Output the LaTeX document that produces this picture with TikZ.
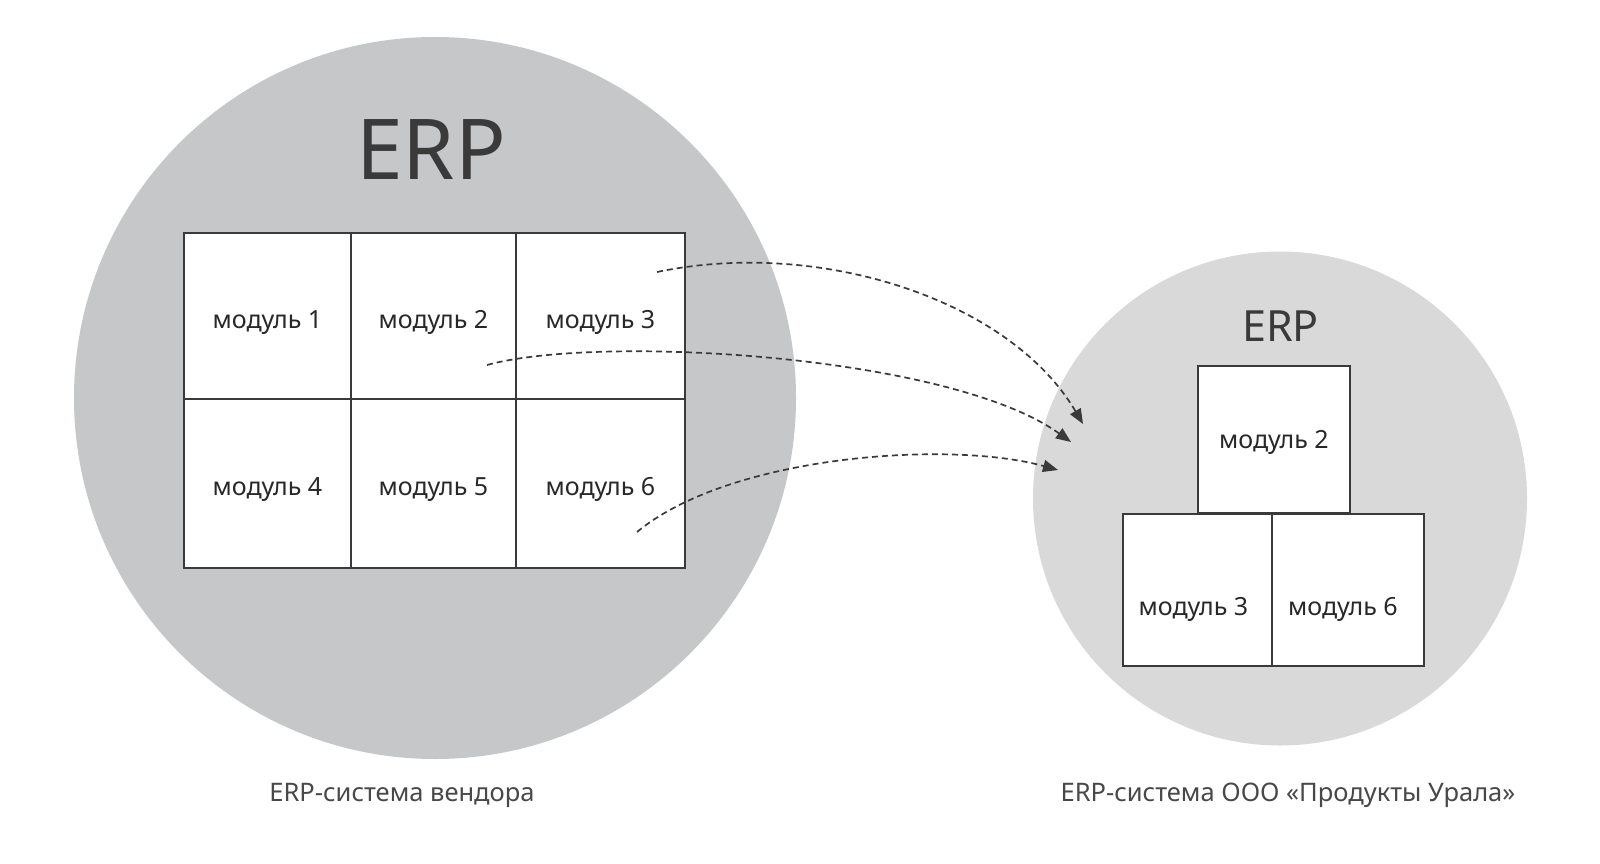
\documentclass[tikz,border=0pt]{standalone}
\usepackage{fontspec}
\setmainfont{Noto Sans}
\usetikzlibrary{arrows.meta}
\definecolor{bigc}{RGB}{198,199,200}
\definecolor{smallc}{RGB}{217,217,217}
\definecolor{ink}{RGB}{58,58,58}
\definecolor{txt}{RGB}{40,40,40}
\tikzset{
  cell/.style={draw=ink, line width=2.6pt, fill=white, text=txt, font=\fontsize{25}{28}\selectfont, inner sep=0pt, text depth=0pt, text height=24pt},
  flow/.style={draw=ink, line width=1.7pt, dash pattern=on 6pt off 4pt, -{Triangle[length=15pt,width=12pt]}},
  caption/.style={text=txt!85!white, font=\fontsize{25.5}{28}\selectfont, inner sep=0pt}
}
\begin{document}
\begin{tikzpicture}[x=1pt,y=-1pt]
\useasboundingbox (0,0) rectangle (1600,864);
\fill[white] (0,0) rectangle (1600,864);
% circles
\node[circle, fill=bigc, minimum size=722pt, inner sep=0pt] (big) at (435,398) {};
\node[circle, fill=smallc, minimum size=494pt, inner sep=0pt] (small) at (1280,498.5) {};
% titles
\node[text=ink, font=\fontsize{84}{90}\selectfont, inner sep=0pt] (erp1) at (431,150) {ERP};
\node[text=ink, font=\fontsize{43}{48}\selectfont, inner sep=0pt] (erp2) at (1280.5,326.5) {ERP};
% big grid
\node[cell, minimum width=167pt, minimum height=166pt] (m1) at (267.5,316) {модуль 1};
\node[cell, minimum width=165pt, minimum height=166pt] (m2) at (433.5,316) {модуль 2};
\node[cell, minimum width=169pt, minimum height=166pt] (m3) at (600.5,316) {модуль 3};
\node[cell, minimum width=167pt, minimum height=169pt] (m4) at (267.5,483.5) {модуль 4};
\node[cell, minimum width=165pt, minimum height=169pt] (m5) at (433.5,483.5) {модуль 5};
\node[cell, minimum width=169pt, minimum height=169pt] (m6) at (600.5,483.5) {модуль 6};
% small grid
\node[cell, minimum width=152pt, minimum height=147pt, text height=17pt] (n2) at (1274,439.5) {модуль 2};
\node[cell, minimum width=149pt, minimum height=152pt, text height=50pt] (n3) at (1197.5,590) {\hspace*{-8pt}модуль 3};
\node[cell, minimum width=152pt, minimum height=152pt, text height=50pt] (n6) at (1348,590) {\hspace*{-10pt}модуль 6};
% captions
\node[caption] (c1) at (402,795) {ERP-система вендора};
\node[caption] (c2) at (1288,795) {ERP-система ООО «Продукты Урала»};
% arrow endpoints
\coordinate (s3) at (657,272);
\coordinate (s2) at (487,365);
\coordinate (s6) at (637,532);
\coordinate (t3) at (1083,424);
\coordinate (t2) at (1071,442);
\coordinate (t6) at (1058,470);
\draw[flow] (s3) .. controls (820,238) and (1010,300) .. (t3);
\draw[flow] (s2) .. controls (600,334) and (950,355) .. (t2);
\draw[flow] (s6) .. controls (730,455) and (950,440) .. (t6);
\end{tikzpicture}
\end{document}
